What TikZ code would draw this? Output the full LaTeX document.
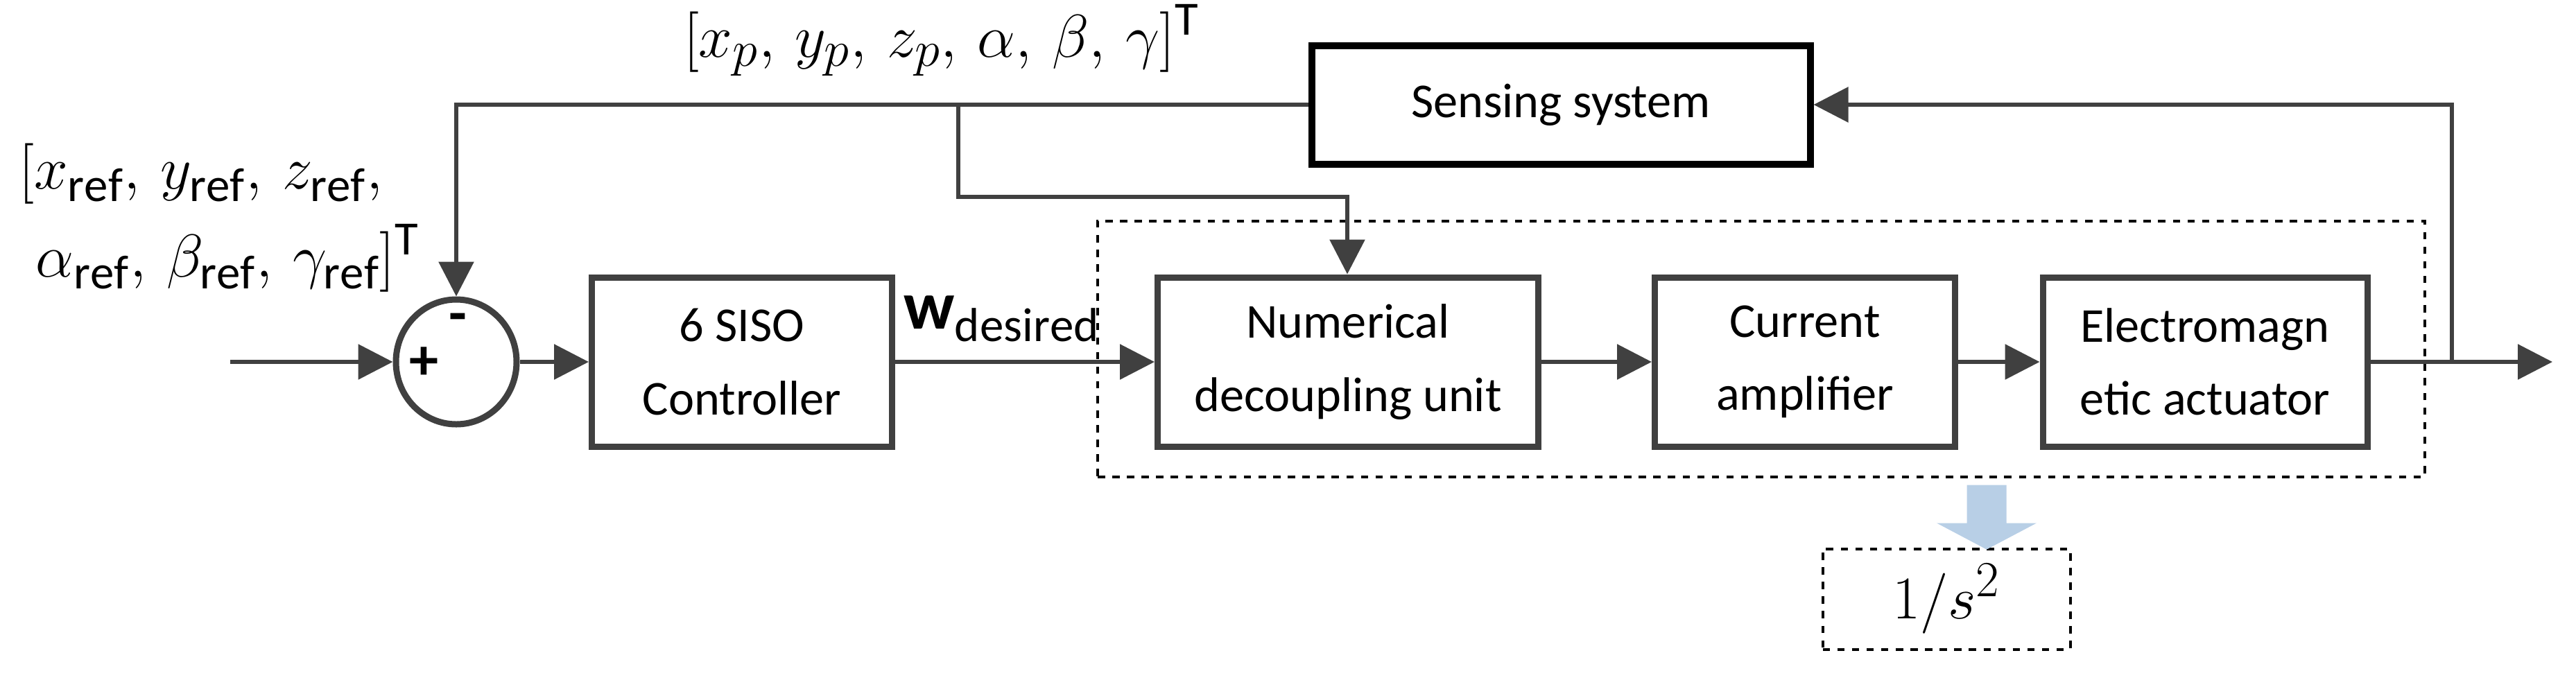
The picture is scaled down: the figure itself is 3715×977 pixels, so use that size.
\documentclass[tikz,border=0pt]{standalone}
\usepackage{fontspec}
\setmainfont{Carlito}
\usepackage{amsmath}
\usepackage{bm}
\usetikzlibrary{arrows.meta,shapes.geometric}
\definecolor{lgray}{HTML}{404040}
\definecolor{lblue}{HTML}{B8CFE6}
\begin{document}
\begin{tikzpicture}[x=0.1mm,y=-0.1mm,
  blk/.style={draw=lgray,line width=0.9mm,minimum width=43.3mm,minimum height=24.4mm,align=center,font=\fontsize{20}{30}\selectfont},
  wire/.style={draw=lgray,line width=0.6mm},
  arr/.style={wire,-{Triangle[length=5mm,width=5mm]}},
  lbl/.style={font=\fontsize{28}{36}\selectfont}]
    \useasboundingbox (0,0) rectangle (3715,977);
    \node[draw=lgray,line width=0.9mm,ellipse,minimum width=17.4mm,minimum height=18mm] (sum) at (658,522) {};
    \node[font=\fontsize{24}{24}\selectfont\bfseries] at (611,524) {+};
    \node[font=\fontsize{24}{24}\selectfont\bfseries] at (660,466) {-};
    \node[blk] (ctrl) at (1070,522) {6 SISO\\Controller};
    \node[blk,minimum width=54.9mm] (ndu) at (1944,522) {Numerical\\decoupling unit};
    \node[blk] (amp) at (2603,522) {Current\\amplifier};
    \node[blk,minimum width=46.8mm] (ema) at (3180,522) {Electromagn\\etic actuator};
    \node[draw=black,line width=1mm,minimum width=71.9mm,minimum height=17.1mm,font=\fontsize{20}{30}\selectfont] (sense) at (2251,151) {Sensing system};
    \node[draw,dashed,line width=0.4mm,minimum width=191.4mm,minimum height=36.9mm] (plant) at (2540,503) {};
    \node[draw,dashed,line width=0.4mm,minimum width=35.7mm,minimum height=14.5mm,font=\fontsize{30}{30}\selectfont] (tf) at (2807,864) {$1/s^2$};
    \coordinate (in) at (332,522);
    \coordinate (out) at (3681,522);
    \coordinate (tap) at (3536,522);
    \coordinate (split) at (1382,151);
    % signal path
    \draw[arr] (in) -- (sum);
    \draw[arr] (sum) -- (ctrl);
    \draw[arr] (ctrl) -- (ndu);
    \draw[arr] (ndu) -- (amp);
    \draw[arr] (amp) -- (ema);
    \draw[arr] (ema) -- (out);
    % feedback
    \draw[arr] (tap) |- (sense);
    \draw[arr] (sense.west) -| (sum.north);
    \draw[arr] (split) |- (1943,284) -- (ndu.north -| 1943,0);
    \draw[lblue,line width=0.1mm,fill=lblue] (2837,700) -- (2893,700) -- (2893,755) -- (2935,755) -- (2865,792) -- (2795,755) -- (2837,755) -- cycle;
    % labels
    \node[lbl,anchor=south] at (1358,122) {$[x_p,\, y_p,\, z_p,\, \alpha,\, \beta,\, \gamma]^{\mathrm{T}}$};
    \node[lbl,anchor=north west,align=left,font=\fontsize{28}{36}\selectfont] at (15,195) {$[x_{\mathrm{ref}},\, y_{\mathrm{ref}},\, z_{\mathrm{ref}},$\\$\;\alpha_{\mathrm{ref}},\, \beta_{\mathrm{ref}},\, \gamma_{\mathrm{ref}}]^{\mathrm{T}}$};
    \node[lbl,anchor=south] at (1445,505) {$\mathbf{w}_{\mathrm{desired}}$};
\end{tikzpicture}
\end{document}
